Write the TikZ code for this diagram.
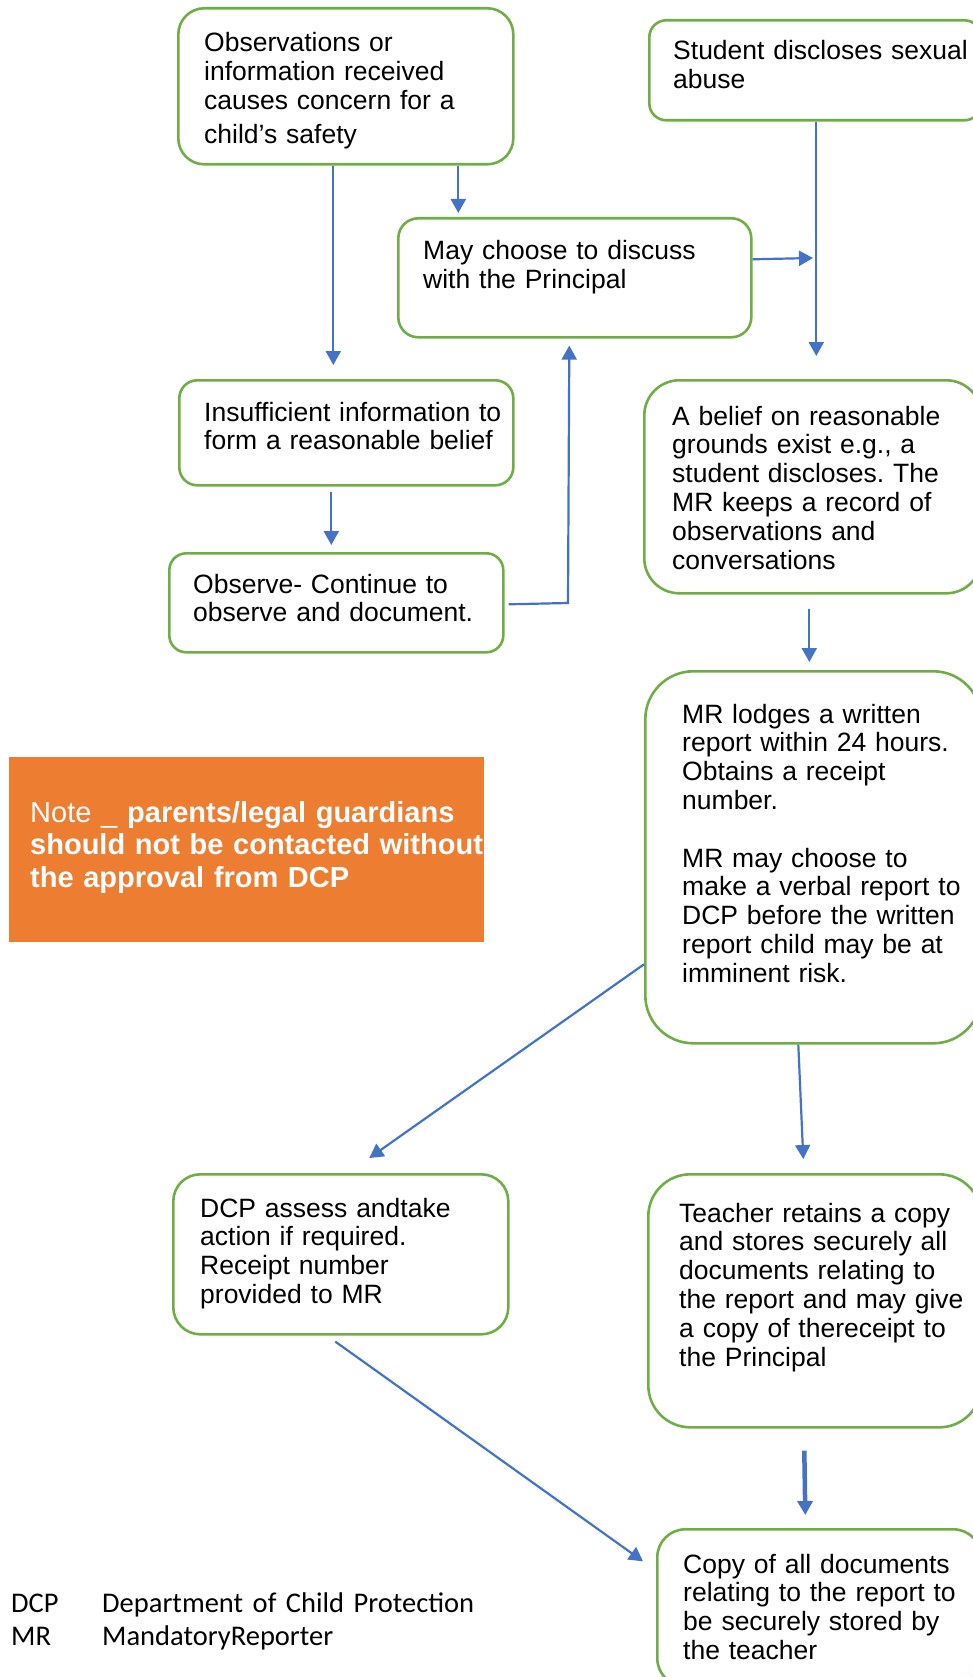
\documentclass[tikz,border=0pt]{standalone}
\usepackage{fontspec}
\setmainfont{Liberation Sans}
\newfontfamily\legendfont{Carlito}
\usetikzlibrary{arrows.meta}
\definecolor{boxgreen}{HTML}{70AD47}
\definecolor{flowblue}{HTML}{4472C4}
\definecolor{noteorange}{HTML}{ED7D31}
\frenchspacing

\begin{document}
\begin{tikzpicture}[x=1pt, y=-1pt,
  stepbox/.style={draw=boxgreen, line width=2.6pt, fill=white, rounded corners=#1, anchor=north west, inner sep=0pt},
  stepbox/.default=24pt,
  txt/.style={anchor=base west, align=left, text width=330pt, inner sep=0pt, font=\fontsize{26.5}{28.8}\selectfont},
  flow/.style={flowblue, line width=2.2pt, -{Triangle[length=14pt,width=15pt]}}]
\path[fill=white, use as bounding box] (0,0) rectangle (972,1677);

\node[stepbox=26pt, minimum width=335pt, minimum height=156pt] (1) at (177,7) {};
\node[stepbox=17pt, minimum width=332pt, minimum height=100pt] (2) at (648,19) {};
\node[stepbox=20pt, minimum width=353pt, minimum height=119pt] (3) at (397,217) {};
\node[stepbox=18pt, minimum width=334pt, minimum height=105pt] (4) at (178,379) {};
\node[stepbox=17pt, minimum width=334pt, minimum height=99pt] (5) at (168,552) {};
\node[stepbox=35pt, minimum width=337pt, minimum height=213pt] (6) at (643,379) {};
\node[stepbox=48pt, minimum width=336pt, minimum height=372pt] (7) at (644,670) {};
\node[stepbox=27pt, minimum width=335pt, minimum height=160pt] (8) at (172,1173) {};
\node[stepbox=42pt, minimum width=333pt, minimum height=253pt] (9) at (647,1173) {};
\node[stepbox=28pt, minimum width=324pt, minimum height=157pt] (10) at (656,1528) {};
\node[fill=noteorange, anchor=north west, inner sep=0pt, minimum width=475pt, minimum height=185pt] (n) at (9,757) {};

\node[txt] (t1) at (204,52) {Observations or\\information received\\causes concern for a\\[5.2pt]child’s safety};
\node[txt] (t2) at (673,60) {Student discloses sexual\\abuse};
\node[txt] (t3) at (423,260) {May choose to discuss\\with the Principal};
\node[txt] (t4) at (204,421) {Insufficient information to\\form a reasonable belief};
\node[txt] (t5) at (193,593) {Observe- Continue to\\observe and document.};
\node[txt] (t6) at (672,425) {A belief on reasonable\\grounds exist e.g., a\\student discloses. The\\MR keeps a record of\\observations and\\conversations};
\node[txt] (t7) at (682,723) {MR lodges a written\\report within 24 hours.\\Obtains a receipt\\number.\\[28.8pt]MR may choose to\\make a verbal report to\\DCP before the written\\report child may be at\\imminent risk.};
\node[txt] (t8) at (200,1217) {DCP assess andtake\\action if required.\\Receipt number\\provided to MR};
\node[txt] (t9) at (679,1222) {Teacher retains a copy\\and stores securely all\\documents relating to\\the report and may give\\a copy of thereceipt to\\the Principal};
\node[txt] (t10) at (683,1573) {Copy of all documents\\relating to the report to\\be securely stored by\\the teacher};
\node[txt, text width=470pt, text=white, font=\fontsize{29}{32.5}\selectfont] (tn) at (30,822) {Note \_ \textbf{parents/legal guardians}\\\textbf{should not be contacted without}\\\textbf{the approval from DCP}};

\node[txt, text width=80pt, font=\legendfont\fontsize{28.5}{33}\selectfont] (l1) at (11,1612) {DCP\\MR};
\node[txt, text width=420pt, font=\legendfont\fontsize{28.5}{33}\selectfont] (l2) at (102,1612) {Department of Child Protection\\MandatoryReporter};

\coordinate (j1) at (813,258);
\coordinate (j2) at (568,603);

\path[draw,flow] ([xshift=-12.5pt]1.south) -- ([xshift=-13pt,yshift=14pt]4.north);
\path[draw,flow] ([xshift=112.5pt]1.south) -- ([xshift=-116.5pt,yshift=4pt]3.north);
\path[draw,flow] ([xshift=1pt]2.south) -- ([xshift=3.5pt,yshift=23pt]6.north);
\path[draw,flow] ([yshift=18.5pt]3.east) -- (j1);
\path[draw,flow] ([xshift=-15pt,yshift=-5pt]4.south) -- ([xshift=-5pt,yshift=7pt]5.north);
\path[draw,flow] ([xshift=4pt,yshift=-1.5pt]5.east) -- (j2) -- ([xshift=-5.5pt,yshift=-7pt]3.south);
\path[draw,flow] ([xshift=-3.5pt,yshift=-14pt]6.south) -- ([xshift=-4pt,yshift=8pt]7.north);
\path[draw,flow] ([yshift=-107pt]7.west) -- ([xshift=28.5pt,yshift=15pt]8.north);
\path[draw,flow] ([xshift=-15pt]7.south) -- ([xshift=-11.5pt,yshift=14pt]9.north);
\path[draw,flow] ([xshift=-5.5pt,yshift=-6pt]8.south) -- ([xshift=-13pt,yshift=46.5pt]10.west);
\path[draw,flow,line width=4.5pt] ([xshift=-10.5pt,yshift=-22pt]9.south) -- ([xshift=-14pt,yshift=13pt]10.north);
\end{tikzpicture}
\end{document}
